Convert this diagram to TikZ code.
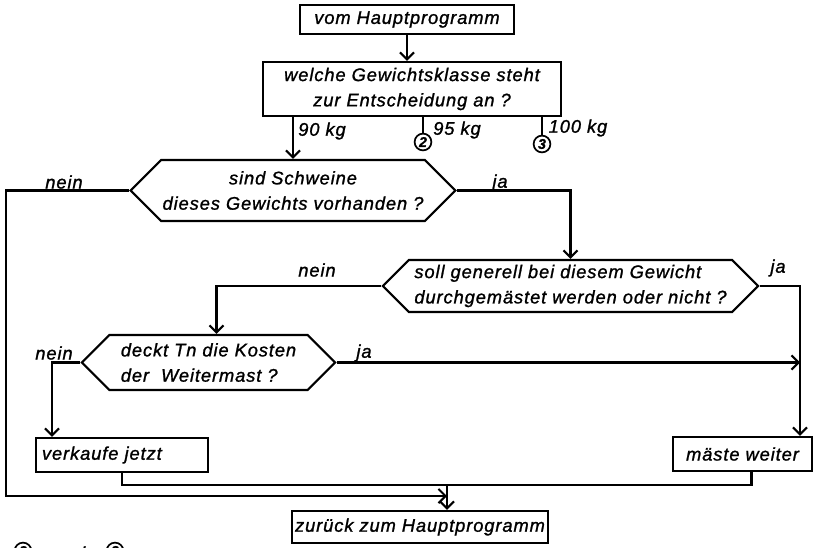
\documentclass[tikz,border=0pt]{standalone}
\usepackage{fontspec}
\setmainfont{Liberation Sans}[LetterSpace=5, FakeBold=1.2]
\usetikzlibrary{arrows.meta,positioning,shapes.symbols,calc}

\tikzset{
  line/.style={line width=1.5pt},
  flow/.style={line width=1.5pt, -{Straight Barb[length=5pt,width=10pt]}},
  stepbox/.style={draw, line width=1.5pt, inner sep=2pt, align=center,
    font=\itshape\fontsize{13}{18}\selectfont},
  query/.style={draw, line width=1.5pt, shape=signal, signal to=west and east,
    signal pointer angle=90, inner sep=1pt, font=\itshape\fontsize{13}{18}\selectfont},
  lbl/.style={inner sep=0pt, font=\itshape\fontsize{13}{15}\selectfont},
  conn/.style={draw, circle, line width=1.2pt, inner sep=0pt, minimum size=0.42cm,
    font=\itshape\bfseries\fontsize{10}{10}\selectfont}
}

\begin{document}
\begin{tikzpicture}[x=0.025cm, y=-0.025cm]
  \useasboundingbox (0,0) rectangle (820,547);

  % boxes
  \node[stepbox, minimum width=5.35cm, minimum height=0.725cm] (start) at (407,19.5) {vom Hauptprogramm};
  \node[stepbox, minimum width=7.45cm, minimum height=1.35cm] (klasse) at (412,89) {welche Gewichtsklasse steht\\zur Entscheidung an ?};
  \node[stepbox, text width=4.0cm, inner sep=0.15cm, align=left, minimum height=0.85cm] (verkauf) at (122,455) {verkaufe jetzt};
  \node[stepbox, minimum width=3.475cm, minimum height=0.85cm] (maeste) at (742.5,454) {mäste weiter};
  \node[stepbox, minimum width=6.35cm, minimum height=0.8cm] (zurueck) at (420,527) {zurück zum Hauptprogramm};

  % decisions
  \node[query, minimum width=7.9cm, minimum height=1.525cm, align=center] (d1) at (293,190.5) {sind Schweine\\dieses Gewichts vorhanden ?};
  \node[query, minimum width=9.375cm, minimum height=1.3cm, align=left] (d2) at (570.5,286) {soll generell bei diesem Gewicht\\durchgemästet werden oder nicht ?};
  \node[query, minimum width=6.325cm, minimum height=1.375cm, align=left] (d3) at (208.5,362.5) {deckt Tn die Kosten\\der \ Weitermast ?};

  % connectors of the weight classes
  \node[conn] (c2) at (423,142) {2};
  \node[conn] (c3) at (542,144) {3};
  \node[lbl] (l90) at (322,131) {90 kg};
  \node[lbl] (l95) at (457,130) {95 kg};
  \node[lbl] (l100) at (578,128) {100 kg};

  % labels
  \node[lbl] (n1) at (64,182) {nein};
  \node[lbl] (j1) at (500,183) {ja};
  \node[lbl] (n2) at (317,270) {nein};
  \node[lbl] (j2) at (778,268) {ja};
  \node[lbl] (n3) at (54,353) {nein};
  \node[lbl] (j3) at (364,353) {ja};

  % footnote, cut by the page edge
  \node[conn] (f2) at (23,551) {2};
  \node[lbl] (fund) at (69,553) {und};
  \node[conn] (f3) at (115,551) {3};

  \coordinate (rcol) at (800,286);
  \coordinate (lcorner) at (6,496);
  \coordinate (j) at (447,485);
  \coordinate (jl) at (447,496);

  % arrows
  \draw[flow] (start.south) -- (start.south |- klasse.north);
  \draw[flow] (klasse.south -| d1.north) -- (d1.north);
  \draw[line] (klasse.south -| c2.north) -- (c2.north);
  \draw[line] (klasse.south -| c3.north) -- (c3.north);
  \draw[flow] (d1.west) -| (lcorner) -- (jl);
  \draw[flow] (d1.east) -| (d2.north);
  \draw[flow] (d2.east) -- (rcol) -- (rcol |- maeste.north);
  \draw[flow] (d2.west) -| ($(d3.north)+(8,0)$);
  \draw[flow] (d3.east) -- (d3.east -| rcol);
  \draw[flow] (d3.west) -| ($(verkauf.north)+(-70,0)$);
  \draw[line] (verkauf.south) |- (j) -| ($(maeste.south)+(9,0)$);
  \draw[flow] (j) -- (j |- zurueck.north);
\end{tikzpicture}
\end{document}
